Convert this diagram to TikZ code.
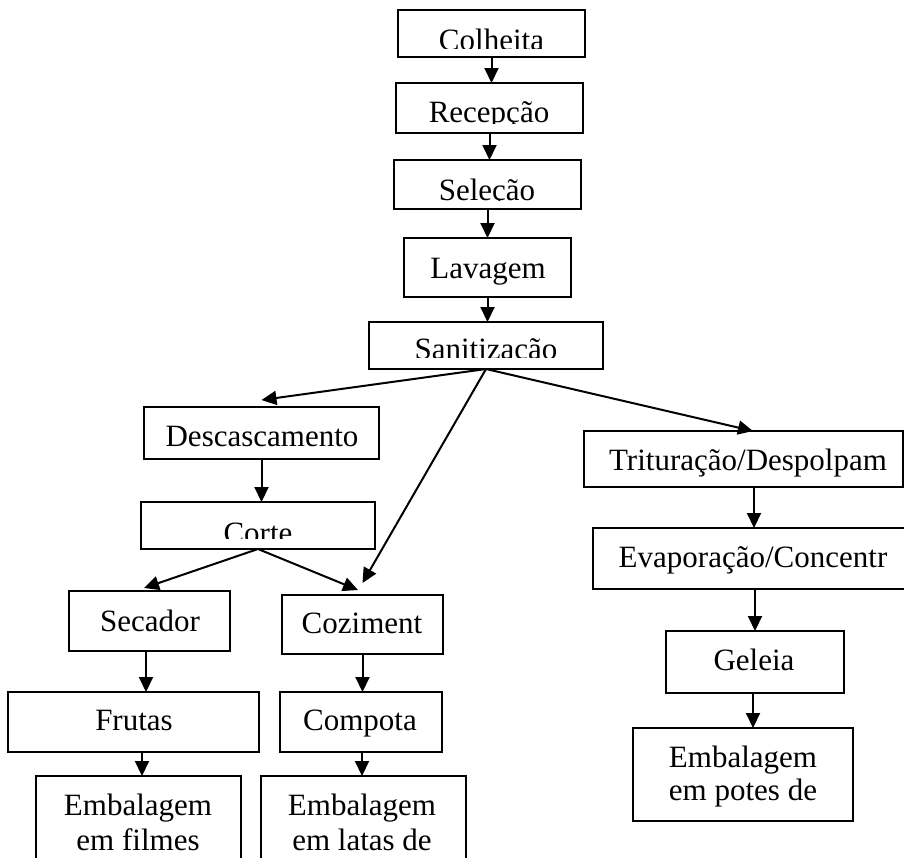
\documentclass[tikz,border=0pt]{standalone}
\usepackage{fontspec}
\setmainfont{Liberation Serif}
\usetikzlibrary{arrows.meta}
\begin{document}
\begin{tikzpicture}[x=1pt,y=-1pt,
  every node/.style={font=\fontsize{31}{35}\selectfont, inner sep=0pt, outer sep=0pt},
  box/.style={draw, line width=2pt},
  txt/.style={anchor=base},
  arr/.style={line width=2pt, -{Triangle[width=14pt,length=15pt]}}]
\useasboundingbox[fill=white] (0,0) rectangle (904,857);

% boxes
\node[box, minimum width=187pt, minimum height=47pt] (col) at (491.5,33.5) {};
\node[box, minimum width=187pt, minimum height=50pt] (rec) at (489.5,108) {};
\node[box, minimum width=187pt, minimum height=49pt] (sel) at (487.5,184.5) {};
\node[box, minimum width=167pt, minimum height=59pt] (lav) at (487.5,267.5) {};
\node[box, minimum width=234pt, minimum height=47pt] (san) at (486,345.5) {};
\node[box, minimum width=235pt, minimum height=52pt] (desc) at (261.5,433) {};
\node[box, minimum width=234pt, minimum height=47pt] (cor) at (258,525.5) {};
\node[box, minimum width=161pt, minimum height=60pt] (sec) at (149.5,621) {};
\node[box, minimum width=161pt, minimum height=59pt] (coz) at (362.5,624.5) {};
\node[box, minimum width=251pt, minimum height=60pt] (fru) at (133.5,722) {};
\node[box, minimum width=162pt, minimum height=60pt] (com) at (361,722) {};
\node[box, minimum width=205pt, minimum height=114pt] (fil) at (138.5,833) {};
\node[box, minimum width=205pt, minimum height=114pt] (lat) at (363.5,833) {};
\node[box, minimum width=319pt, minimum height=56pt] (tri) at (743.5,459) {};
\node[box, minimum width=322pt, minimum height=61pt] (eva) at (754,558.5) {};
\node[box, minimum width=178pt, minimum height=62pt] (gel) at (755,662) {};
\node[box, minimum width=220pt, minimum height=93pt] (pot) at (743,774.5) {};

% texts (some clipped like the original text boxes)
\begin{scope}
  \clip (col.north west) rectangle ([yshift=9pt]col.south east);
  \node[txt] (tcol) at (491.5,50) {Colheita};
\end{scope}
\begin{scope}
  \clip (rec.north west) rectangle ([yshift=10pt]rec.south east);
  \node[txt] (trec) at (489,122) {Recepção};
\end{scope}
\begin{scope}
  \clip (sel.north west) rectangle ([yshift=8.5pt]sel.south east);
  \node[txt] (tsel) at (487,200) {Seleção};
\end{scope}
\node[txt] (tlav) at (488,278) {Lavagem};
\begin{scope}
  \clip (san.north west) rectangle ([yshift=12pt]san.south east);
  \node[txt] (tsan) at (486,359) {Sanitização};
\end{scope}
\node[txt] (tdesc) at (262,446) {Descascamento};
\begin{scope}
  \clip (cor.north west) rectangle ([yshift=11pt]cor.south east);
  \node[txt] (tcor) at (258,543) {Corte};
\end{scope}
\node[txt] (tsec) at (150,631) {Secador};
\node[txt] (tcoz) at (362,633) {Coziment};
\node[txt] (tfru) at (134,730) {Frutas};
\node[txt] (tcom) at (360,730) {Compota};
\node[txt] (tfil1) at (138,815) {Embalagem};
\node[txt] (tfil2) at (138,850) {em filmes};
\node[txt] (tlat1) at (362,815) {Embalagem};
\node[txt] (tlat2) at (362,850) {em latas de};
\node[txt] (ttri) at (748,470) {Trituração/Despolpam};
\node[txt] (teva) at (753,567) {Evaporação/Concentr};
\node[txt] (tgel) at (754,670) {Geleia};
\node[txt] (tpot1) at (743,767) {Embalagem};
\node[txt] (tpot2) at (743,800) {em potes de};

% connectors
\draw[arr] (col.south) -- (col.south |- rec.north);
\draw[arr] (rec.south) -- (rec.south |- sel.north);
\draw[arr] (sel.south) -- (sel.south |- lav.north);
\draw[arr] (lav.south) -- (lav.south |- san.north);
\draw[arr] (san.south) -- ([yshift=7pt]desc.north);
\draw[arr] (san.south) -- ([yshift=12pt]coz.north);
\draw[arr] (san.south) -- ([xshift=9.5pt]tri.north);
\draw[arr] (desc.south) -- (desc.south |- cor.north);
\draw[arr] (cor.south) -- ([xshift=-5.5pt,yshift=3pt]sec.north);
\draw[arr] (cor.south) -- ([xshift=-4.5pt,yshift=5pt]coz.north);
\draw[arr] ([xshift=-3.5pt]sec.south) -- ([xshift=-3.5pt]sec.south |- fru.north);
\draw[arr] (coz.south) -- (coz.south |- com.north);
\draw[arr] ([xshift=3.5pt]fil.north |- fru.south) -- ([xshift=3.5pt]fil.north);
\draw[arr] ([xshift=1pt]com.south) -- ([xshift=1pt]com.south |- lat.north);
\draw[arr] (eva.north |- tri.south) -- (eva.north);
\draw[arr] (gel.north |- eva.south) -- (gel.north);
\draw[arr] ([xshift=-2pt]gel.south) -- ([xshift=-2pt]gel.south |- pot.north);
\end{tikzpicture}
\end{document}
